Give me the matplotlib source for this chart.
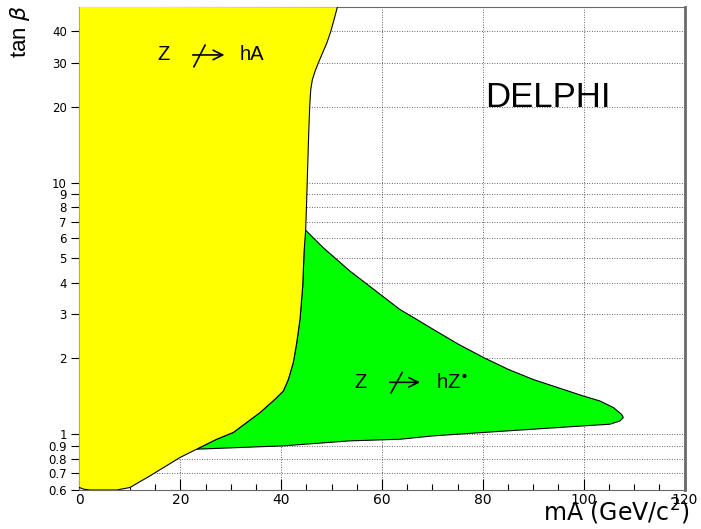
import matplotlib.pyplot as plt
import numpy as np

plt.rcParams['font.family'] = ['Liberation Sans', 'DejaVu Sans']
plt.rcParams['mathtext.fontset'] = 'dejavusans'

# Z -> hA excluded region: top edge, then the right-hand boundary going down
ha_x = [0, 51.13, 50.48, 49.82, 49.03, 48.04, 47.36, 46.71, 46.17, 45.86, 45.66,
        45.46, 45.26, 45.06, 44.86, 44.53, 44.27, 43.73, 43.08, 42.41, 41.42, 40.42,
        38.77, 35.8, 30.5, 27.2, 23.24, 19.93, 13.98, 10.0, 7.4, 2.1, 0.75, 0]
ha_y = [50, 49.8, 44.4, 39.8, 35.8, 32.2, 29.9, 27.7, 25.6, 23.4, 20.1,
        15.7, 11.6, 8.56, 6.51, 5.26, 3.88, 2.86, 2.31, 1.93, 1.65, 1.485,
        1.377, 1.219, 1.016, 0.955, 0.872, 0.808, 0.683, 0.614, 0.6, 0.6, 0.605, 0.614]

# Z -> hZ* excluded region: upper edge out to the tip, lower edge back,
# then up along the hA boundary
hz_x = [44.72, 48.36, 53.65, 63.57, 66.88, 70.17, 75.13, 80.09, 85.05, 90.0, 94.96,
        99.92, 103.2, 105.9, 107.5, 107.86, 107.2, 105.2, 99.92, 90.0, 80.09, 70.17,
        63.57, 53.65, 40.42, 23.24, 27.2, 30.5, 35.8, 38.77, 40.42, 41.42, 42.41,
        43.08, 43.73, 44.27, 44.53]
hz_y = [6.51, 5.51, 4.45, 3.13, 2.86, 2.61, 2.28, 2.02, 1.81, 1.65, 1.53,
        1.419, 1.356, 1.276, 1.20, 1.165, 1.129, 1.096, 1.079, 1.047, 1.016, 0.985,
        0.955, 0.941, 0.899, 0.872, 0.955, 1.016, 1.219, 1.377, 1.485, 1.65, 1.93,
        2.31, 2.86, 3.88, 5.26]

ytick_vals = [0.6, 0.7, 0.8, 0.9, 1, 2, 3, 4, 5, 6, 7, 8, 9, 10, 20, 30, 40]
ytick_labels = ['0.6', '0.7', '0.8', '0.9', '1', '2', '3', '4', '5', '6', '7', '8', '9',
                '10', '20', '30', '40']
xtick_vals = [0, 20, 40, 60, 80, 100, 120]

fig = plt.figure(figsize=(7.01, 5.29), dpi=100)
ax = fig.add_axes([0.1134, 0.0737, 0.8631, 0.9133])

ax.fill(hz_x, hz_y, facecolor='#00ff00', edgecolor='black', linewidth=0.8, zorder=2)
ax.fill(ha_x, ha_y, facecolor='#ffff00', edgecolor='none', zorder=3)
# outline only along the curved edge of the yellow region
ax.plot(ha_x[1:], ha_y[1:], color='black', linewidth=0.8, zorder=4)

ax.set_yscale('log')
ax.set_xlim(0, 120)
ax.set_ylim(0.6, 50)

ax.set_yticks(ytick_vals)
ax.set_yticklabels(ytick_labels, family='DejaVu Sans')
ax.yaxis.set_minor_locator(plt.NullLocator())
ax.set_xticks(xtick_vals)
ax.set_xticklabels([str(v) for v in xtick_vals], family='DejaVu Sans')
ax.set_xticks(np.arange(0, 121, 5), minor=True)

ax.tick_params(axis='y', direction='out', length=6, width=0.8, labelsize=8.5, pad=3)
ax.tick_params(axis='x', which='major', direction='in', length=8, width=0.8,
               labelsize=10, pad=2, top=False)
ax.tick_params(axis='x', which='minor', direction='in', length=4, width=0.8, top=False)

ax.grid(True, which='major', linestyle=(0, (1, 2)), color='#333333', linewidth=0.6,
        zorder=1)
ax.set_axisbelow(True)
for s in ax.spines.values():
    s.set_color('dimgray')
    s.set_linewidth(0.8)
ax.spines['right'].set_linewidth(2)

# "Z -/-> hA"
ax.text(15.4, 32.2, 'Z', fontsize=14.5, va='center', ha='left', zorder=5)
ax.annotate('', xy=(29.3, 32.2), xytext=(21.9, 32.2), zorder=5,
            arrowprops=dict(arrowstyle='->', lw=1.2, color='black', mutation_scale=17))
ax.plot([22.7, 24.9], [28.9, 35.2], color='black', lw=1.2, zorder=5)
ax.text(31.8, 32.2, 'hA', fontsize=14.5, va='center', ha='left', zorder=5)

# "Z -/-> hZ*"
ax.text(54.5, 1.608, 'Z', fontsize=14.5, va='center', ha='left', zorder=5)
ax.annotate('', xy=(68.1, 1.608), xytext=(61.0, 1.608), zorder=5,
            arrowprops=dict(arrowstyle='->', lw=1.2, color='black', mutation_scale=17))
ax.plot([61.8, 64.0], [1.46, 1.76], color='black', lw=1.2, zorder=5)
ax.text(70.7, 1.608, r'hZ$^{\bullet}$', fontsize=14.5, va='center', ha='left', zorder=5)

ax.text(80.4, 21.9, 'DELPHI', fontsize=25, va='center', ha='left', zorder=5)

fig.text(0.984, 0.003, r'mA $\left(\mathrm{GeV/c}^{2}\right)$', fontsize=17,
         family='DejaVu Sans', ha='right', va='bottom')
fig.text(0.012, 0.99, r'tan $\beta$', fontsize=16, rotation=90, ha='left', va='top')

fig.savefig('out.png', dpi=100)
